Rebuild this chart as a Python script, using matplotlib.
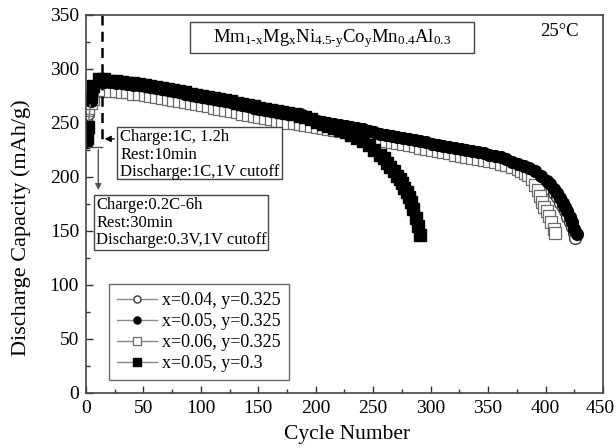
import numpy as np
import matplotlib
matplotlib.use("Agg")
import matplotlib.pyplot as plt
from matplotlib.patches import Rectangle
from matplotlib.ticker import MultipleLocator, FuncFormatter

plt.rcParams['font.family'] = ['Liberation Serif', 'DejaVu Serif']
plt.rcParams['mathtext.fontset'] = 'custom'
plt.rcParams['mathtext.rm'] = 'Liberation Serif'
plt.rcParams['mathtext.it'] = 'Liberation Serif:italic'

# cycle numbers and discharge capacities (mAh/g) for each alloy
cyc_a = [1, 2, 4] + list(range(6, 402, 5)) + [404, 407, 410, 413, 415, 417, 419, 421, 423, 425, 427]
cap_a = [232, 242, 270,
         283, 288, 288, 287.5, 287, 286.5, 286, 285, 284.5, 284,
         283, 282, 281, 280, 279, 278, 277, 276, 275, 274,
         273, 272, 271, 270, 269, 268, 266.5, 265, 264, 263,
         262, 261, 260, 259, 258.5, 258.5, 258, 255, 253, 252,
         251, 250, 249, 248, 247, 246, 245, 244.5, 242, 241,
         240, 239, 238, 237, 236, 235, 234, 233, 232, 230.5,
         229.5, 228.5, 227.5, 226.5, 225.5, 224.5, 223.5, 222.5, 221.5, 220.5,
         219.5, 218, 216, 214, 212, 210, 208, 205, 201, 196,
         193, 189, 185, 180, 176, 172, 168, 163, 158, 152, 147]

cyc_b = [1, 2, 4] + list(range(6, 257, 5)) + [259, 262, 265, 268, 271, 273, 275, 277, 279, 281,
                                               283, 285, 287, 289, 291]
cap_b = [236, 246, 274,
         284, 290, 290, 289, 288.5, 288, 287, 286.5, 286, 285,
         284, 283, 282, 281, 280, 279, 278, 277, 276, 275,
         274, 273, 272, 271, 270, 268.5, 267, 266, 265, 264,
         263, 262, 261, 260, 259, 258, 256.5, 255, 253, 251,
         249, 247, 245, 243, 241, 238.5, 236, 233, 229, 225,
         220,
         217, 213, 209, 205, 201, 198, 194, 190, 186, 181,
         177, 170, 162, 154, 146]

cyc_c = [1, 2, 4] + list(range(6, 402, 5)) + [404, 407, 410, 413, 415, 417, 419, 421, 423, 425, 426]
cap_c = [250, 258, 268,
         276, 282, 283, 282.5, 282, 281.5, 281, 280, 279.5, 279,
         278, 277, 276, 275, 274, 273, 272, 271, 270, 269,
         268, 267, 266, 265, 264, 263, 261.5, 260, 259, 258,
         257, 256, 255, 254, 253, 252.5, 252, 250.5, 249, 248,
         247, 246, 245, 244, 243, 242, 241, 240, 239, 238,
         237, 236, 235, 234, 233, 232, 231, 230, 229, 228,
         227, 226, 225, 224, 223, 222, 221, 220, 219, 218,
         217, 215.5, 214, 212, 210, 207.5, 205, 202, 198, 193,
         189, 185, 181, 176, 172, 168, 163, 158, 153, 148, 143]

cyc_d = [1, 2, 4] + list(range(6, 377, 5)) + [379, 382, 385, 388, 391, 393, 395, 397, 399, 401,
                                               403, 405, 407, 408]
cap_d = [262, 264, 268,
         272, 279, 280, 279.5, 279, 278.5, 278, 277, 276.5, 276,
         275, 274, 273, 272, 271, 270, 269, 268, 267, 266,
         265, 264, 263, 262, 261, 260, 258.5, 257, 256, 255,
         254, 253, 252, 251, 250, 249.5, 249, 248, 247, 246,
         245, 244, 243, 242, 241, 240, 239, 238, 236, 235,
         234, 233, 232, 231, 230, 229, 228, 227, 226, 224.5,
         223.5, 222.5, 221.5, 220.5, 219.5, 218.5, 217.5, 216.5, 215.5, 214.5,
         213.5, 212, 210.5, 209, 207,
         205, 203.5, 202, 198, 192, 188, 182, 177, 172, 168,
         164, 158, 152, 148]

labels = ['x=0.04, y=0.325', 'x=0.05, y=0.325', 'x=0.06, y=0.325', 'x=0.05, y=0.3']

box1_lines = ['Charge:1C, 1.2h', 'Rest:10min', 'Discharge:1C,1V cutoff']
box2_lines = ['Charge:0.2C-6h', 'Rest:30min', 'Discharge:0.3V,1V cutoff']

fig = plt.figure(figsize=(6.16, 4.48), dpi=100)
ax = fig.add_axes([0.1396, 0.1234, 0.8393, 0.8438])

grey = '#8a8a8a'
ms = 8.5
h_c, = ax.plot(cyc_c, cap_c, '-', color=grey, lw=1, marker='o', ms=ms,
               mfc='white', mec='#3a3a3a', mew=1.0, label=labels[0])
h_d, = ax.plot(cyc_d, cap_d, '-', color=grey, lw=1, marker='s', ms=ms,
               mfc='white', mec='#6a6a6a', mew=0.9, label=labels[2])
h_a, = ax.plot(cyc_a, cap_a, '-', color=grey, lw=1, marker='o', ms=ms,
               mfc='black', mec='black', label=labels[1])
h_b, = ax.plot(cyc_b, cap_b, '-', color=grey, lw=1, marker='s', ms=ms,
               mfc='black', mec='black', label=labels[3])

xmax = 450
ax.set_xlim(0, xmax)
ax.set_ylim(0, 350)
ax.xaxis.set_major_locator(MultipleLocator(50))
ax.xaxis.set_minor_locator(MultipleLocator(25))
ax.yaxis.set_major_locator(MultipleLocator(50))
ax.yaxis.set_minor_locator(MultipleLocator(25))
# the last x label sits right at the figure edge, so it is drawn separately a little inward
ax.xaxis.set_major_formatter(FuncFormatter(lambda v, p: '' if v >= xmax else f'{v:.0f}'))
ax.tick_params(which='both', direction='in', top=False, right=False, labelsize=14, width=1,
               color='#333333', pad=5)
ax.tick_params(which='major', length=5)
ax.tick_params(which='minor', length=3)
ax.annotate(f'{xmax}', xy=(xmax - 2.5, 0), xycoords=('data', 'axes fraction'),
            xytext=(0, -5), textcoords='offset points', ha='center', va='top',
            fontsize=14, annotation_clip=False)
for s in ax.spines.values():
    s.set_color('#444444')
    s.set_linewidth(1.2)

ax.set_xlabel('Cycle Number', fontsize=15.5)
ax.set_ylabel('Discharge Capacity (mAh/g)', fontsize=16)
ax.xaxis.set_label_coords(0.505, -0.085)
ax.yaxis.set_label_coords(-0.107, 0.436)

# protocol change marker
ax.plot([13.5, 13.5], [350, 231], color='black', lw=1.8, ls=(0, (4, 2.5)))
ax.plot([1.7, 13.5], [227.5, 227.5], color='#555555', lw=1)
ax.annotate('', xy=(10.7, 185), xytext=(10.7, 227.5),
            arrowprops=dict(arrowstyle='-|>', color='#555555', lw=1, mutation_scale=9))
ax.annotate('', xy=(13.8, 235), xytext=(27, 235),
            arrowprops=dict(arrowstyle='-|>', color='black', lw=1, mutation_scale=9))

def text_box(x0, x1, y0, y1, lines, tx, fs):
    ax.add_patch(Rectangle((x0, y0), x1 - x0, y1 - y0, transform=ax.transAxes,
                           fill=True, facecolor='white', edgecolor='#444444', lw=1, zorder=4))
    ax.text(tx, y1 - 0.006, '\n'.join(lines), transform=ax.transAxes, fontsize=fs,
            va='top', ha='left', linespacing=1.13, zorder=5)

text_box(0.060, 0.379, 0.565, 0.703, box1_lines, 0.066, 12)
text_box(0.0155, 0.352, 0.378, 0.523, box2_lines, 0.020, 12)

ax.add_patch(Rectangle((0.201, 0.899), 0.549, 0.082, transform=ax.transAxes,
                       fill=True, facecolor='white', edgecolor='#444444', lw=1, zorder=4))
ax.text(0.4755, 0.937, r'$\mathrm{Mm_{1\text{-}x}Mg_xNi_{4.5\text{-}y}Co_yMn_{0.4}Al_{0.3}}$',
        transform=ax.transAxes, fontsize=13.5, ha='center', va='center', zorder=5)
ax.text(0.953, 0.955, '25°C', transform=ax.transAxes, fontsize=13.5, ha='right', va='center')

leg = ax.legend([h_c, h_a, h_d, h_b], labels, loc='upper left', bbox_to_anchor=(0.0445, 0.2876),
                borderaxespad=0, fontsize=13, frameon=True, fancybox=False,
                edgecolor='#444444', handlelength=2.2, handletextpad=0.3,
                labelspacing=0.22, borderpad=0.45, markerscale=0.6)
leg.get_frame().set_linewidth(1)

fig.savefig('out.png', dpi=100)
